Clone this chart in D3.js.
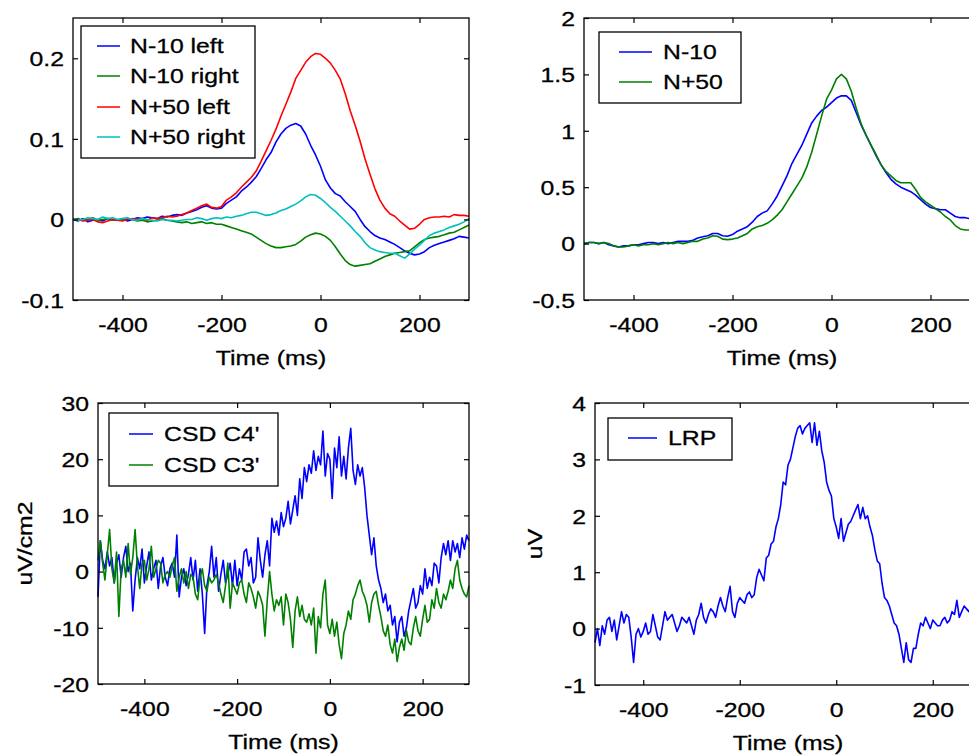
<!DOCTYPE html>
<html>
<head>
<meta charset="utf-8">
<script src="https://cdn.jsdelivr.net/npm/d3@7"></script>
<style>
body { margin: 0; background: #fff; }
svg { display: block; font-family: "Liberation Sans", Arial, sans-serif; }
svg text { stroke: #000; stroke-width: 0.3px; }
</style>
</head>
<body>
<svg width="969" height="756"></svg>
<script>
const d3 = window.d3;

// sample times (ms)
const timeSmooth = d3.range(-500, 301, 10);
const timeNoisy = d3.range(-500, 301, 5);
const xTicks = [-400, -200, 0, 200];

// top left: four averaged waveforms, one value every 10 ms
const n10Left = [
	0.000, -0.002, 0.001, -0.003, -0.001, 0.000, -0.002, 0.001, 0.000, -0.001,
	0.001, -0.002, 0.000, 0.002, 0.001, 0.003, 0.002, 0.001, 0.004, 0.003,
	0.005, 0.006, 0.005, 0.008, 0.010, 0.012, 0.015, 0.017, 0.014, 0.013,
	0.014, 0.020, 0.024, 0.028, 0.035, 0.040, 0.046, 0.053, 0.063, 0.074,
	0.083, 0.096, 0.106, 0.113, 0.117, 0.119, 0.116, 0.106, 0.092, 0.080,
	0.066, 0.049, 0.039, 0.032, 0.029, 0.022, 0.016, 0.010, 0.000, -0.009,
	-0.015, -0.020, -0.023, -0.025, -0.028, -0.031, -0.035, -0.039, -0.042, -0.044,
	-0.043, -0.040, -0.035, -0.032, -0.030, -0.028, -0.026, -0.024, -0.021, -0.022,
	-0.023
];
const n10Right = [
	0.000, 0.001, -0.001, 0.000, 0.002, -0.001, 0.000, 0.001, -0.001, 0.000,
	-0.001, 0.001, 0.000, -0.002, -0.001, -0.003, -0.002, -0.001, 0.001, -0.001,
	-0.002, -0.003, -0.004, -0.003, -0.005, -0.004, -0.003, -0.005, -0.004, -0.006,
	-0.006, -0.008, -0.010, -0.012, -0.014, -0.016, -0.018, -0.022, -0.026, -0.030,
	-0.033, -0.035, -0.035, -0.034, -0.033, -0.031, -0.027, -0.022, -0.019, -0.017,
	-0.018, -0.021, -0.026, -0.034, -0.043, -0.051, -0.056, -0.058, -0.057, -0.056,
	-0.055, -0.052, -0.049, -0.046, -0.044, -0.042, -0.041, -0.040, -0.039, -0.034,
	-0.029, -0.025, -0.023, -0.022, -0.021, -0.019, -0.017, -0.016, -0.013, -0.010,
	-0.007
];
const n50Left = [
	0.001, 0.000, -0.002, -0.001, 0.000, -0.003, -0.004, -0.002, 0.000, -0.001,
	-0.002, 0.000, 0.001, 0.000, 0.001, -0.001, 0.002, 0.001, 0.002, 0.004,
	0.003, 0.004, 0.006, 0.008, 0.011, 0.014, 0.017, 0.019, 0.015, 0.014,
	0.016, 0.024, 0.028, 0.033, 0.040, 0.046, 0.052, 0.060, 0.072, 0.085,
	0.098, 0.112, 0.128, 0.143, 0.158, 0.175, 0.185, 0.195, 0.202, 0.206,
	0.205, 0.200, 0.194, 0.185, 0.174, 0.156, 0.135, 0.117, 0.097, 0.075,
	0.056, 0.038, 0.024, 0.014, 0.007, 0.004, -0.002, -0.007, -0.012, -0.011,
	-0.006, 0.000, 0.002, 0.003, 0.003, 0.004, 0.003, 0.006, 0.005, 0.005,
	0.004
];
const n50Right = [
	0.001, -0.001, 0.000, 0.002, 0.001, 0.000, 0.003, 0.001, 0.002, 0.000,
	0.001, 0.002, 0.000, -0.001, 0.001, 0.000, -0.001, -0.002, 0.000, -0.001,
	-0.001, -0.002, -0.001, 0.000, 0.000, 0.002, 0.001, -0.001, 0.001, 0.002,
	0.001, 0.003, 0.002, 0.004, 0.005, 0.007, 0.009, 0.009, 0.007, 0.005,
	0.006, 0.008, 0.011, 0.013, 0.016, 0.019, 0.023, 0.028, 0.031, 0.030,
	0.026, 0.021, 0.015, 0.010, 0.004, -0.002, -0.008, -0.015, -0.021, -0.029,
	-0.035, -0.038, -0.040, -0.041, -0.042, -0.042, -0.045, -0.048, -0.043, -0.037,
	-0.032, -0.026, -0.020, -0.017, -0.015, -0.013, -0.010, -0.008, -0.006, -0.003,
	0.001
];

// top right: difference waves, one value every 10 ms
const diffN10 = [
	0.00, 0.01, 0.01, 0.00, 0.01, -0.01, -0.02, -0.03, -0.02, -0.02,
	-0.01, -0.01, 0.00, 0.01, 0.01, 0.00, 0.01, 0.00, 0.01, 0.02,
	0.02, 0.02, 0.03, 0.05, 0.06, 0.07, 0.09, 0.09, 0.07, 0.065,
	0.08, 0.11, 0.13, 0.15, 0.19, 0.24, 0.27, 0.29, 0.35, 0.42,
	0.51, 0.60, 0.71, 0.79, 0.87, 0.97, 1.07, 1.13, 1.18, 1.21,
	1.25, 1.29, 1.31, 1.31, 1.27, 1.16, 1.05, 0.96, 0.87, 0.78,
	0.70, 0.63, 0.57, 0.53, 0.50, 0.48, 0.46, 0.43, 0.39, 0.35,
	0.32, 0.31, 0.30, 0.30, 0.27, 0.24, 0.23, 0.23, 0.22, 0.23,
	0.22
];
const diffN50 = [
	0.00, 0.01, 0.01, 0.00, 0.01, 0.00, -0.02, -0.03, -0.03, -0.02,
	-0.01, -0.02, -0.01, -0.01, 0.00, -0.01, 0.00, 0.01, 0.00, 0.01,
	0.00, 0.01, 0.02, 0.02, 0.04, 0.05, 0.07, 0.065, 0.04, 0.035,
	0.04, 0.05, 0.07, 0.09, 0.13, 0.15, 0.16, 0.18, 0.21, 0.25,
	0.30, 0.37, 0.44, 0.51, 0.58, 0.68, 0.81, 0.97, 1.13, 1.28,
	1.36, 1.46, 1.50, 1.46, 1.35, 1.20, 1.06, 0.96, 0.87, 0.79,
	0.70, 0.64, 0.60, 0.56, 0.54, 0.54, 0.54, 0.48, 0.41, 0.37,
	0.34, 0.31, 0.28, 0.24, 0.21, 0.16, 0.13, 0.12, 0.12, 0.11,
	0.11
];

// bottom left: CSD traces, one value every 5 ms
const csdC4 = [
	-4.5, 5.5, 2.0, 0.5, 3.5, 1.0, 2.5, -2.0, 1.5, 3.0,
	-1.0, 2.5, 4.5, 0.0, 1.5, -7.0, -1.5, 2.5, 0.5, 4.0,
	-2.0, 1.0, 3.5, -1.5, 0.5, 2.0, -3.0, 1.0, 2.5, -1.0,
	-2.5, 0.5, 1.5, -1.0, 6.5, -4.5, -1.0, 0.5, -2.5, -0.5,
	2.5, -1.5, 2.0, -3.5, 0.5, -4.0, -11.0, -2.5, 0.0, 4.5,
	-1.0, 2.5, -3.5, -0.5, 2.0, -2.0, -0.5, 1.5, -2.5, 2.0,
	-2.5, 0.5, -1.5, 3.5, 4.0, 1.0, 2.5, -2.0, -1.0, 6.0,
	2.0, -1.0, 3.0, 5.5, 1.0, 9.5, 7.0, 9.0, 6.5, 10.5,
	8.0, 9.5, 12.5, 8.5, 11.0, 13.5, 10.0, 16.5, 13.0, 18.5,
	16.0, 19.0, 17.5, 21.5, 18.0, 20.5, 19.0, 25.0, 17.0, 21.0,
	20.0, 13.0, 22.0, 18.5, 24.0, 17.0, 20.5, 16.5, 22.0, 25.5,
	18.0, 15.5, 19.0, 17.0, 18.5, 15.0, 10.0, 6.5, 3.0, 6.0,
	1.0, -1.5, -3.0, -5.5, -4.0, -7.0, -6.0, -9.5, -8.0, -12.5,
	-9.0, -8.0, -11.5, -10.0, -7.0, -5.0, -3.0, -6.5, -5.5, -2.5,
	-4.0, 0.5, -3.0, -1.0, -2.5, 1.5, 1.0, -2.0, 2.5, 5.0,
	3.0, 5.5, 2.0, 5.5, 3.5, 5.0, 2.5, 6.0, 4.0, 6.5,
	5.5
];
const csdC3 = [
	2.0, 5.5, 1.5, -1.5, 3.0, 7.5, 0.5, -2.0, 3.5, -8.0,
	0.5, 2.0, -1.0, 5.0, -0.5, 2.5, 7.5, 1.0, -3.0, 1.5,
	2.0, -1.5, 0.5, 4.5, -1.0, 0.5, 2.0, 1.5, -2.0, -0.5,
	0.0, -1.0, 1.0, 2.5, -3.5, -1.0, 0.5, -2.0, 0.0, -3.0,
	-0.5, -1.0, -4.0, -5.0, -1.0, 0.5, -2.5, -3.5, -1.0, -2.0,
	-1.5, -0.5, -2.0, -4.0, -5.5, -2.5, 1.5, -6.5, -2.0, -3.0,
	-4.0, -2.0, -1.5, -4.0, -5.5, -2.0, -3.0, -4.5, -6.5, -3.5,
	-4.5, -6.0, -11.5, -5.0, 0.0, -4.0, -7.0, -5.0, -6.0, -4.5,
	-9.5, -4.0, -5.5, -8.5, -13.5, -7.0, -4.5, -8.0, -6.0, -8.5,
	-9.0, -7.5, -9.5, -6.5, -14.5, -8.0, -10.0, -4.0, -1.5, -9.5,
	-11.0, -8.5, -11.5, -9.0, -13.0, -15.5, -11.0, -9.5, -7.0, -8.5,
	-5.0, -4.0, -2.5, -1.5, -3.5, -4.5, -6.0, -9.0, -5.5, -4.0,
	-3.5, -6.0, -8.0, -10.5, -11.5, -9.5, -13.0, -14.5, -12.0, -16.0,
	-13.5, -12.0, -14.0, -10.5, -12.5, -13.0, -10.0, -8.0, -10.5, -11.5,
	-8.5, -6.0, -9.0, -8.5, -5.0, -6.5, -3.0, -5.5, -6.5, -4.0,
	-5.0, -3.5, -1.5, -3.0, 0.5, 2.0, -1.5, -3.0, -4.0, -4.5,
	-2.5
];

// bottom right: LRP, one value every 5 ms
const lrp = [
	-0.25, 0.00, -0.30, 0.05, -0.10, 0.15, 0.20, -0.05, 0.15, -0.20,
	0.05, 0.30, 0.10, 0.25, 0.20, -0.15, -0.60, -0.10, 0.00, -0.15,
	-0.05, 0.10, -0.10, -0.05, 0.25, 0.05, -0.15, -0.20, 0.05, 0.30,
	0.15, 0.20, 0.25, 0.10, -0.05, 0.05, 0.20, 0.15, 0.10, 0.20,
	0.05, -0.10, 0.15, 0.25, 0.45, 0.20, 0.10, 0.25, 0.35, 0.30,
	0.20, 0.40, 0.55, 0.40, 0.30, 0.55, 0.75, 0.30, 0.20, 0.45,
	0.55, 0.50, 0.45, 0.60, 0.65, 0.55, 0.60, 0.90, 1.05, 0.95,
	0.85, 1.25, 1.30, 1.50, 1.55, 1.80, 1.95, 2.20, 2.60, 2.55,
	2.90, 3.00, 3.20, 3.40, 3.55, 3.60, 3.45, 3.55, 3.60, 3.65,
	3.30, 3.65, 3.25, 3.50, 3.15, 2.95, 2.60, 2.45, 2.35, 1.95,
	1.80, 1.60, 1.95, 1.55, 1.70, 1.85, 1.90, 2.00, 2.10, 2.20,
	1.95, 2.15, 1.95, 2.00, 1.80, 1.65, 1.40, 1.20, 1.15, 0.80,
	0.55, 0.50, 0.40, 0.25, 0.10, 0.05, -0.10, -0.35, -0.60, -0.25,
	-0.55, -0.60, -0.35, -0.35, -0.10, 0.10, 0.05, 0.20, 0.10, 0.00,
	0.15, 0.10, 0.05, 0.05, 0.15, 0.20, 0.10, 0.15, 0.30, 0.25,
	0.50, 0.20, 0.30, 0.40, 0.35, 0.30, 0.40, 0.35, 0.30, 0.35,
	0.30
];

const BLUE = "#0000ff", GREEN = "#008000", RED = "#ff0000", CYAN = "#00bfbf";
const fontSize = 21;
const stretch = 1.18; // the original font runs wider than Arial

const panels = [
	{
		box: [73, 18, 469, 300],
		yDomain: [-0.1, 0.25],
		yTicks: [-0.1, 0, 0.1, 0.2],
		time: timeSmooth,
		series: [
			{ name: "N-10 left", values: n10Left, color: BLUE },
			{ name: "N-10 right", values: n10Right, color: GREEN },
			{ name: "N+50 left", values: n50Left, color: RED },
			{ name: "N+50 right", values: n50Right, color: CYAN },
		],
		legend: { box: [81, 26, 255, 158], line: [97, 120], textX: 130, rows: [46, 76, 107, 137] },
	},
	{
		box: [584, 18, 980, 300],
		yDomain: [-0.5, 2],
		yTicks: [-0.5, 0, 0.5, 1, 1.5, 2],
		time: timeSmooth,
		series: [
			{ name: "N-10", values: diffN10, color: BLUE },
			{ name: "N+50", values: diffN50, color: GREEN },
		],
		legend: { box: [599, 32, 741, 103], line: [619, 652], textX: 663, rows: [52, 82] },
	},
	{
		box: [98, 403, 469, 684],
		yDomain: [-20, 30],
		yTicks: [-20, -10, 0, 10, 20, 30],
		time: timeNoisy,
		yLabel: { text: "uV/cm2", x: 32 },
		series: [
			{ name: "CSD C4'", values: csdC4, color: BLUE },
			{ name: "CSD C3'", values: csdC3, color: GREEN },
		],
		legend: { box: [109, 413, 278, 486], line: [129, 153], textX: 164, rows: [434, 465] },
	},
	{
		box: [595, 403, 981, 685],
		yDomain: [-1, 4],
		yTicks: [-1, 0, 1, 2, 3, 4],
		time: timeNoisy,
		yLabel: { text: "uV", x: 542 },
		series: [{ name: "LRP", values: lrp, color: BLUE }],
		legend: { box: [608, 418, 732, 460], line: [628, 657], textX: 668, rows: [438] },
	},
];

const fmt = d => String(d);

function styleAxis(g) {
	g.attr("font-size", fontSize).attr("font-family", null);
	g.select(".domain").remove();
	g.selectAll(".tick line").attr("stroke", "#000").attr("stroke-width", 1.2);
	g.selectAll(".tick text").attr("fill", "#000");
}

function drawPanel(p) {
	const svg = d3.select("svg");
	const [left, top, right, bottom] = p.box;
	const x = d3.scaleLinear().domain([-500, 300]).range([left, right]);
	const y = d3.scaleLinear().domain(p.yDomain).range([bottom, top]);
	const g = svg.append("g");

	// traces
	const line = d3
		.line()
		.x((d, i) => x(p.time[i]))
		.y(d => y(d));
	p.series.forEach(s => {
		g.append("path")
			.attr("d", line(s.values.slice(0, p.time.length)))
			.attr("fill", "none")
			.attr("stroke", s.color)
			.attr("stroke-width", 1.6)
			.attr("stroke-linejoin", "round");
	});

	// bottom axis with labels
	g.append("g")
		.attr("transform", `translate(0,${bottom})`)
		.call(d3.axisBottom(x).tickValues(xTicks).tickSizeInner(-5).tickSizeOuter(0).tickFormat(fmt))
		.call(styleAxis)
		.selectAll(".tick text")
		.attr("y", 32)
		.attr("dy", null)
		.attr("transform", `scale(${stretch},1)`);
	// top axis, ticks only
	g.append("g")
		.attr("transform", `translate(0,${top})`)
		.call(d3.axisTop(x).tickValues(xTicks).tickSizeInner(-5).tickSizeOuter(0).tickFormat(""))
		.call(styleAxis);
	// left axis with labels
	g.append("g")
		.attr("transform", `translate(${left},0)`)
		.call(d3.axisLeft(y).tickValues(p.yTicks).tickSizeInner(-5).tickSizeOuter(0).tickFormat(fmt))
		.call(styleAxis)
		.selectAll(".tick text")
		.attr("x", -9 / stretch)
		.attr("dy", "0.35em")
		.attr("transform", `scale(${stretch},1)`);
	// right axis, ticks only
	g.append("g")
		.attr("transform", `translate(${right},0)`)
		.call(d3.axisRight(y).tickValues(p.yTicks).tickSizeInner(-5).tickSizeOuter(0).tickFormat(""))
		.call(styleAxis);

	g.append("rect")
		.attr("x", left)
		.attr("y", top)
		.attr("width", right - left)
		.attr("height", bottom - top)
		.attr("fill", "none")
		.attr("stroke", "#000")
		.attr("stroke-width", 1.3);

	// axis titles
	g.append("text")
		.attr("transform", `translate(${(left + right) / 2},${bottom + 65}) scale(${stretch},1)`)
		.attr("text-anchor", "middle")
		.attr("font-size", fontSize)
		.text("Time (ms)");
	if (p.yLabel) {
		g.append("text")
			.attr("transform", `translate(${p.yLabel.x},${(top + bottom) / 2}) rotate(-90) scale(${stretch},1)`)
			.attr("text-anchor", "middle")
			.attr("font-size", fontSize)
			.text(p.yLabel.text);
	}

	// legend
	const lg = p.legend;
	g.append("rect")
		.attr("x", lg.box[0])
		.attr("y", lg.box[1])
		.attr("width", lg.box[2] - lg.box[0])
		.attr("height", lg.box[3] - lg.box[1])
		.attr("fill", "#fff")
		.attr("stroke", "#000")
		.attr("stroke-width", 1.3);
	p.series.forEach((s, i) => {
		const ry = lg.rows[i];
		g.append("line")
			.attr("x1", lg.line[0])
			.attr("x2", lg.line[1])
			.attr("y1", ry)
			.attr("y2", ry)
			.attr("stroke", s.color)
			.attr("stroke-width", 1.5);
		g.append("text")
			.attr("transform", `translate(${lg.textX},${ry}) scale(${stretch},1)`)
			.attr("dy", "0.35em")
			.attr("font-size", fontSize)
			.text(s.name);
	});
}

panels.forEach(drawPanel);
</script>
</body>
</html>
